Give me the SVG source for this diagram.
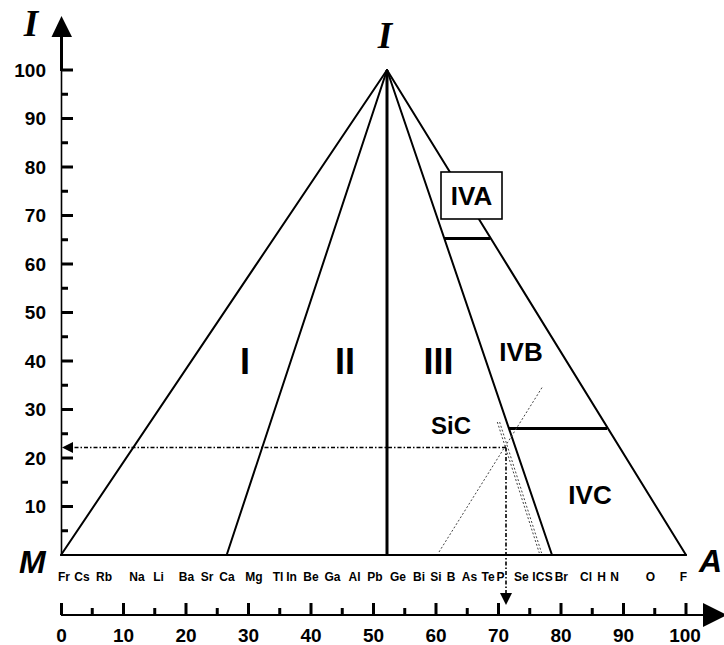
<svg xmlns="http://www.w3.org/2000/svg" width="724" height="645" viewBox="0 0 724 645">
<style>
.ln{stroke:#000;stroke-width:2;fill:none;stroke-linecap:round}
.thk{stroke:#000;stroke-width:3;fill:none}
.tk{stroke:#000;stroke-width:3}
.num{font-family:"Liberation Sans",Arial,sans-serif;font-weight:bold;font-size:19px;fill:#000}
.el{font-family:"Liberation Sans",Arial,sans-serif;font-weight:bold;font-size:12px;fill:#000;text-anchor:middle}
.rom{font-family:"Liberation Sans",Arial,sans-serif;font-weight:bold;font-size:36px;fill:#000;text-anchor:middle}
.reg{font-family:"Liberation Sans",Arial,sans-serif;font-weight:bold;font-size:26px;fill:#000;text-anchor:middle}
.big{font-family:"Liberation Sans",Arial,sans-serif;font-weight:bold;font-style:italic;font-size:32px;fill:#000}
.ser{font-family:"Liberation Serif","Times New Roman",serif;font-weight:bold;font-style:italic;font-size:37px;fill:#000;text-anchor:middle}
.dd{stroke:#000;stroke-width:1.6;fill:none;stroke-dasharray:4,2,1.5,2}
.dot{stroke:#444;stroke-width:1;fill:none;stroke-dasharray:2,2}
</style>
<rect width="724" height="645" fill="#fff"/>

<g id="y-axis">
<line x1="61.5" y1="555" x2="61.5" y2="70" stroke="#000" stroke-width="1.6"/>
<line x1="61.5" y1="71" x2="61.5" y2="36" stroke="#000" stroke-width="3"/>
<polygon points="61.5,16 51.5,37 72,37" fill="#000"/>
<g class="tk">
<line x1="61" y1="506.5" x2="73" y2="506.5"/><line x1="61" y1="458" x2="73" y2="458"/>
<line x1="61" y1="409.5" x2="73" y2="409.5"/><line x1="61" y1="361" x2="73" y2="361"/>
<line x1="61" y1="312.5" x2="73" y2="312.5"/><line x1="61" y1="264" x2="73" y2="264"/>
<line x1="61" y1="215.5" x2="73" y2="215.5"/><line x1="61" y1="167" x2="73" y2="167"/>
<line x1="61" y1="118.5" x2="73" y2="118.5"/><line x1="61" y1="70" x2="73" y2="70"/>
<line x1="61" y1="530.75" x2="68" y2="530.75"/><line x1="61" y1="482.25" x2="68" y2="482.25"/>
<line x1="61" y1="433.75" x2="68" y2="433.75"/><line x1="61" y1="385.25" x2="68" y2="385.25"/>
<line x1="61" y1="336.75" x2="68" y2="336.75"/><line x1="61" y1="288.25" x2="68" y2="288.25"/>
<line x1="61" y1="239.75" x2="68" y2="239.75"/><line x1="61" y1="191.25" x2="68" y2="191.25"/>
<line x1="61" y1="142.75" x2="68" y2="142.75"/><line x1="61" y1="94.25" x2="68" y2="94.25"/>
</g>
<g class="num" text-anchor="end">
<text x="46" y="513">10</text><text x="46" y="464.5">20</text><text x="46" y="416">30</text>
<text x="46" y="367.5">40</text><text x="46" y="319">50</text><text x="46" y="270.5">60</text>
<text x="46" y="222">70</text><text x="46" y="173.5">80</text><text x="46" y="125">90</text>
<text x="46" y="76.5">100</text>
</g>
<text class="ser" x="31" y="36">I</text>
</g>

<g id="x-axis">
<line x1="61" y1="615" x2="705" y2="615" stroke="#000" stroke-width="2"/>
<polygon points="727,615 703,603 703,627" fill="#000"/>
<g class="tk">
<line x1="61.5" y1="603" x2="61.5" y2="615"/><line x1="123.5" y1="603" x2="123.5" y2="615"/>
<line x1="186" y1="603" x2="186" y2="615"/><line x1="248.5" y1="603" x2="248.5" y2="615"/>
<line x1="311" y1="603" x2="311" y2="615"/><line x1="373.5" y1="603" x2="373.5" y2="615"/>
<line x1="436" y1="603" x2="436" y2="615"/><line x1="498.5" y1="603" x2="498.5" y2="615"/>
<line x1="561" y1="603" x2="561" y2="615"/><line x1="623.5" y1="603" x2="623.5" y2="615"/>
<line x1="686" y1="603" x2="686" y2="615"/>
<line x1="92.25" y1="608" x2="92.25" y2="615"/><line x1="154.75" y1="608" x2="154.75" y2="615"/>
<line x1="217.25" y1="608" x2="217.25" y2="615"/><line x1="279.75" y1="608" x2="279.75" y2="615"/>
<line x1="342.25" y1="608" x2="342.25" y2="615"/><line x1="404.75" y1="608" x2="404.75" y2="615"/>
<line x1="467.25" y1="608" x2="467.25" y2="615"/><line x1="529.75" y1="608" x2="529.75" y2="615"/>
<line x1="592.25" y1="608" x2="592.25" y2="615"/><line x1="654.75" y1="608" x2="654.75" y2="615"/>
</g>
<g class="num" text-anchor="middle">
<text x="61.5" y="642">0</text><text x="123.5" y="642">10</text><text x="186" y="642">20</text>
<text x="248.5" y="642">30</text><text x="311" y="642">40</text><text x="373.5" y="642">50</text>
<text x="436" y="642">60</text><text x="498.5" y="642">70</text><text x="561" y="642">80</text>
<text x="623.5" y="642">90</text><text x="685" y="642">100</text>
</g>
</g>

<g id="triangle">
<line class="ln" x1="61" y1="555" x2="686" y2="555"/>
<line class="ln" x1="61" y1="555" x2="387" y2="70"/>
<line class="ln" x1="686" y1="555" x2="387" y2="70"/>
<line class="ln" x1="227" y1="554" x2="387" y2="70"/>
<line class="ln" x1="552" y1="555" x2="387" y2="70"/>
<line class="thk" x1="387" y1="70" x2="387" y2="555"/>
<line class="thk" x1="444" y1="238.5" x2="490.5" y2="238.5"/>
<line class="thk" x1="509" y1="428.5" x2="607" y2="428.5"/>
</g>

<g id="vertex-labels">
<text class="big" x="19" y="573">M</text>
<text class="big" x="699" y="572">A</text>
<text class="ser" x="385" y="48">I</text>
</g>

<g id="region-I"><text class="rom" x="245" y="374">I</text></g>
<g id="region-II"><text class="rom" x="345" y="374">II</text></g>
<g id="region-III"><text class="rom" x="438.5" y="374">III</text></g>
<g id="region-IVA">
<rect x="441" y="172" width="61" height="47" fill="#fff" stroke="#000" stroke-width="1.6"/>
<text class="reg" x="471.5" y="204.5">IVA</text>
</g>
<g id="region-IVB"><text class="reg" x="521" y="361">IVB</text></g>
<g id="region-IVC"><text class="reg" x="590" y="504">IVC</text></g>
<g id="SiC"><text class="reg" style="font-size:24px" x="451" y="434">SiC</text></g>

<g id="elements" class="el">
<text x="64" y="581">Fr</text><text x="82" y="581">Cs</text><text x="104" y="581">Rb</text>
<text x="137" y="581">Na</text><text x="158.5" y="581">Li</text><text x="186.5" y="581">Ba</text>
<text x="207" y="581">Sr</text><text x="227" y="581">Ca</text><text x="254" y="581">Mg</text>
<text x="278" y="581">Tl</text><text x="291.5" y="581">In</text><text x="311" y="581">Be</text>
<text x="332.5" y="581">Ga</text><text x="354.5" y="581">Al</text><text x="375" y="581">Pb</text>
<text x="398" y="581">Ge</text><text x="419" y="581">Bi</text><text x="436" y="581">Si</text>
<text x="451" y="581">B</text><text x="469.5" y="581">As</text><text x="488" y="581">Te</text>
<text x="500.5" y="581">P</text><text x="521.3" y="581">Se</text><text x="533.8" y="581">I</text>
<text x="540" y="581">C</text><text x="548.7" y="581">S</text><text x="561.3" y="581">Br</text>
<text x="586" y="581">Cl</text><text x="601.5" y="581">H</text><text x="614.5" y="581">N</text>
<text x="650.5" y="581">O</text><text x="683.3" y="581">F</text>
</g>

<g id="connectors">
<line class="dot" x1="439" y1="552" x2="543" y2="386"/>
<line class="dot" x1="497.3" y1="422" x2="539.3" y2="553"/>
<line class="dot" x1="499.6" y1="422" x2="541.6" y2="553"/>
<line class="dd" x1="506" y1="447.5" x2="73" y2="447.5"/>
<polygon points="62,447.5 73,442 73,453" fill="#000"/>
<line class="dd" x1="506" y1="447.5" x2="506" y2="593"/>
<polygon points="506,605 500,593 512,593" fill="#000"/>
</g>
</svg>
